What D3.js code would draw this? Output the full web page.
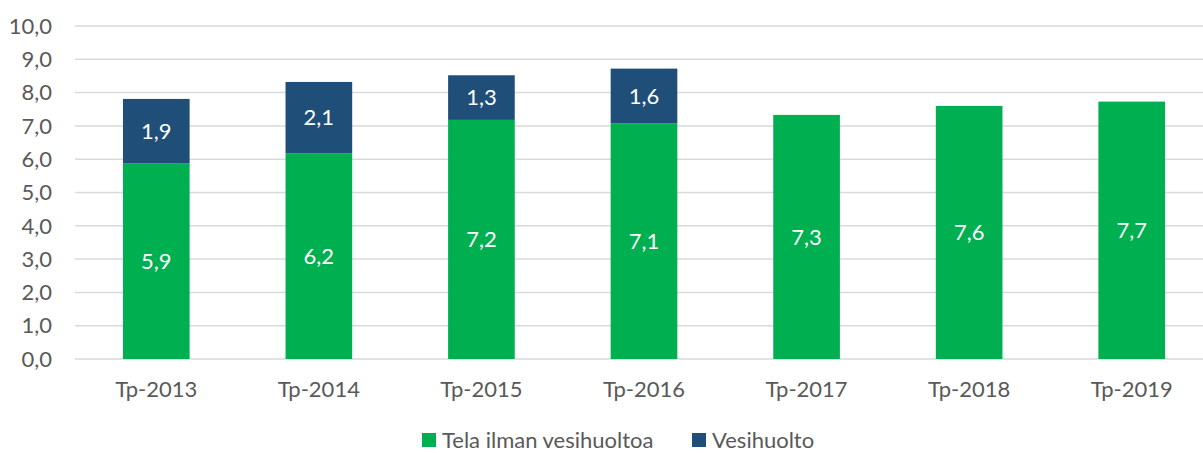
<!DOCTYPE html>
<html>
<head>
<meta charset="utf-8">
<script src="https://cdn.jsdelivr.net/npm/d3@7"></script>
<style>
  body { margin: 0; background: #fff; }
  svg text { font-family: Lato, "Open Sans", sans-serif; }
</style>
</head>
<body>
<svg id="chart" width="1203" height="453"></svg>
<script>
// chart data
const categories = ["Tp-2013", "Tp-2014", "Tp-2015", "Tp-2016", "Tp-2017", "Tp-2018", "Tp-2019"];
const telaValues = [5.87, 6.18, 7.18, 7.08, 7.33, 7.6, 7.73];
const vesiValues = [1.94, 2.14, 1.34, 1.64, 0, 0, 0];
const yTicks = [0, 1, 2, 3, 4, 5, 6, 7, 8, 9, 10];
const seriesNames = ["Tela ilman vesihuoltoa", "Vesihuolto"];
const colors = ["#00b050", "#1f4e79"];

const svg = d3.select("#chart");
const fmt = v => d3.format(".1f")(v).replace(".", ",");
const fontSize = "22px";

const x = d3.scaleBand()
    .domain(categories)
    .range([75, 1213])
    .paddingInner(0.59)
    .paddingOuter(0.295);

const y = d3.scaleLinear()
    .domain([0, 10])
    .range([359, 26]);

// gridlines
svg.append("g")
    .selectAll("line")
    .data(yTicks)
    .enter().append("line")
    .attr("x1", 75)
    .attr("x2", 1203)
    .attr("y1", d => y(d))
    .attr("y2", d => y(d))
    .attr("stroke", "#d9d9d9")
    .attr("stroke-width", 1.5);

// y labels
svg.append("g")
    .selectAll("text")
    .data(yTicks)
    .enter().append("text")
    .attr("x", 52)
    .attr("y", d => y(d))
    .attr("dy", "0.35em")
    .attr("text-anchor", "end")
    .attr("fill", "#595959")
    .style("font-size", fontSize)
    .text(d => fmt(d));

const rows = categories.map((c, i) => ({ cat: c, tela: telaValues[i], vesi: vesiValues[i] }));
const stacked = d3.stack().keys(["tela", "vesi"])(rows);

const layer = svg.append("g")
    .selectAll("g")
    .data(stacked)
    .enter().append("g")
    .attr("fill", (d, i) => colors[i]);

layer.selectAll("rect")
    .data(d => d.filter(p => p[1] - p[0] > 0))
    .enter().append("rect")
    .attr("x", d => x(d.data.cat))
    .attr("width", x.bandwidth())
    .attr("y", d => y(d[1]))
    .attr("height", d => y(d[0]) - y(d[1]));

layer.selectAll("text")
    .data(d => d.filter(p => p[1] - p[0] > 0))
    .enter().append("text")
    .attr("x", d => x(d.data.cat) + x.bandwidth() / 2)
    .attr("y", d => (y(d[0]) + y(d[1])) / 2)
    .attr("dy", "0.35em")
    .attr("text-anchor", "middle")
    .attr("fill", "#fff")
    .style("font-size", fontSize)
    .text(d => fmt(d[1] - d[0]));

// x labels
svg.append("g")
    .selectAll("text")
    .data(categories)
    .enter().append("text")
    .attr("x", d => x(d) + x.bandwidth() / 2)
    .attr("y", 389)
    .attr("dy", "0.35em")
    .attr("text-anchor", "middle")
    .attr("fill", "#595959")
    .style("font-size", fontSize)
    .text(d => d);

// legend
const legendX = [422, 692];
const legend = svg.append("g")
    .selectAll("g")
    .data(seriesNames)
    .enter().append("g")
    .attr("transform", (d, i) => `translate(${legendX[i]},440)`);

legend.append("rect")
    .attr("x", 0)
    .attr("y", -7)
    .attr("width", 14)
    .attr("height", 14)
    .attr("fill", (d, i) => colors[i]);

legend.append("text")
    .attr("x", 20)
    .attr("y", 0)
    .attr("dy", "0.35em")
    .attr("fill", "#595959")
    .style("font-size", fontSize)
    .text(d => d);
</script>
</body>
</html>
